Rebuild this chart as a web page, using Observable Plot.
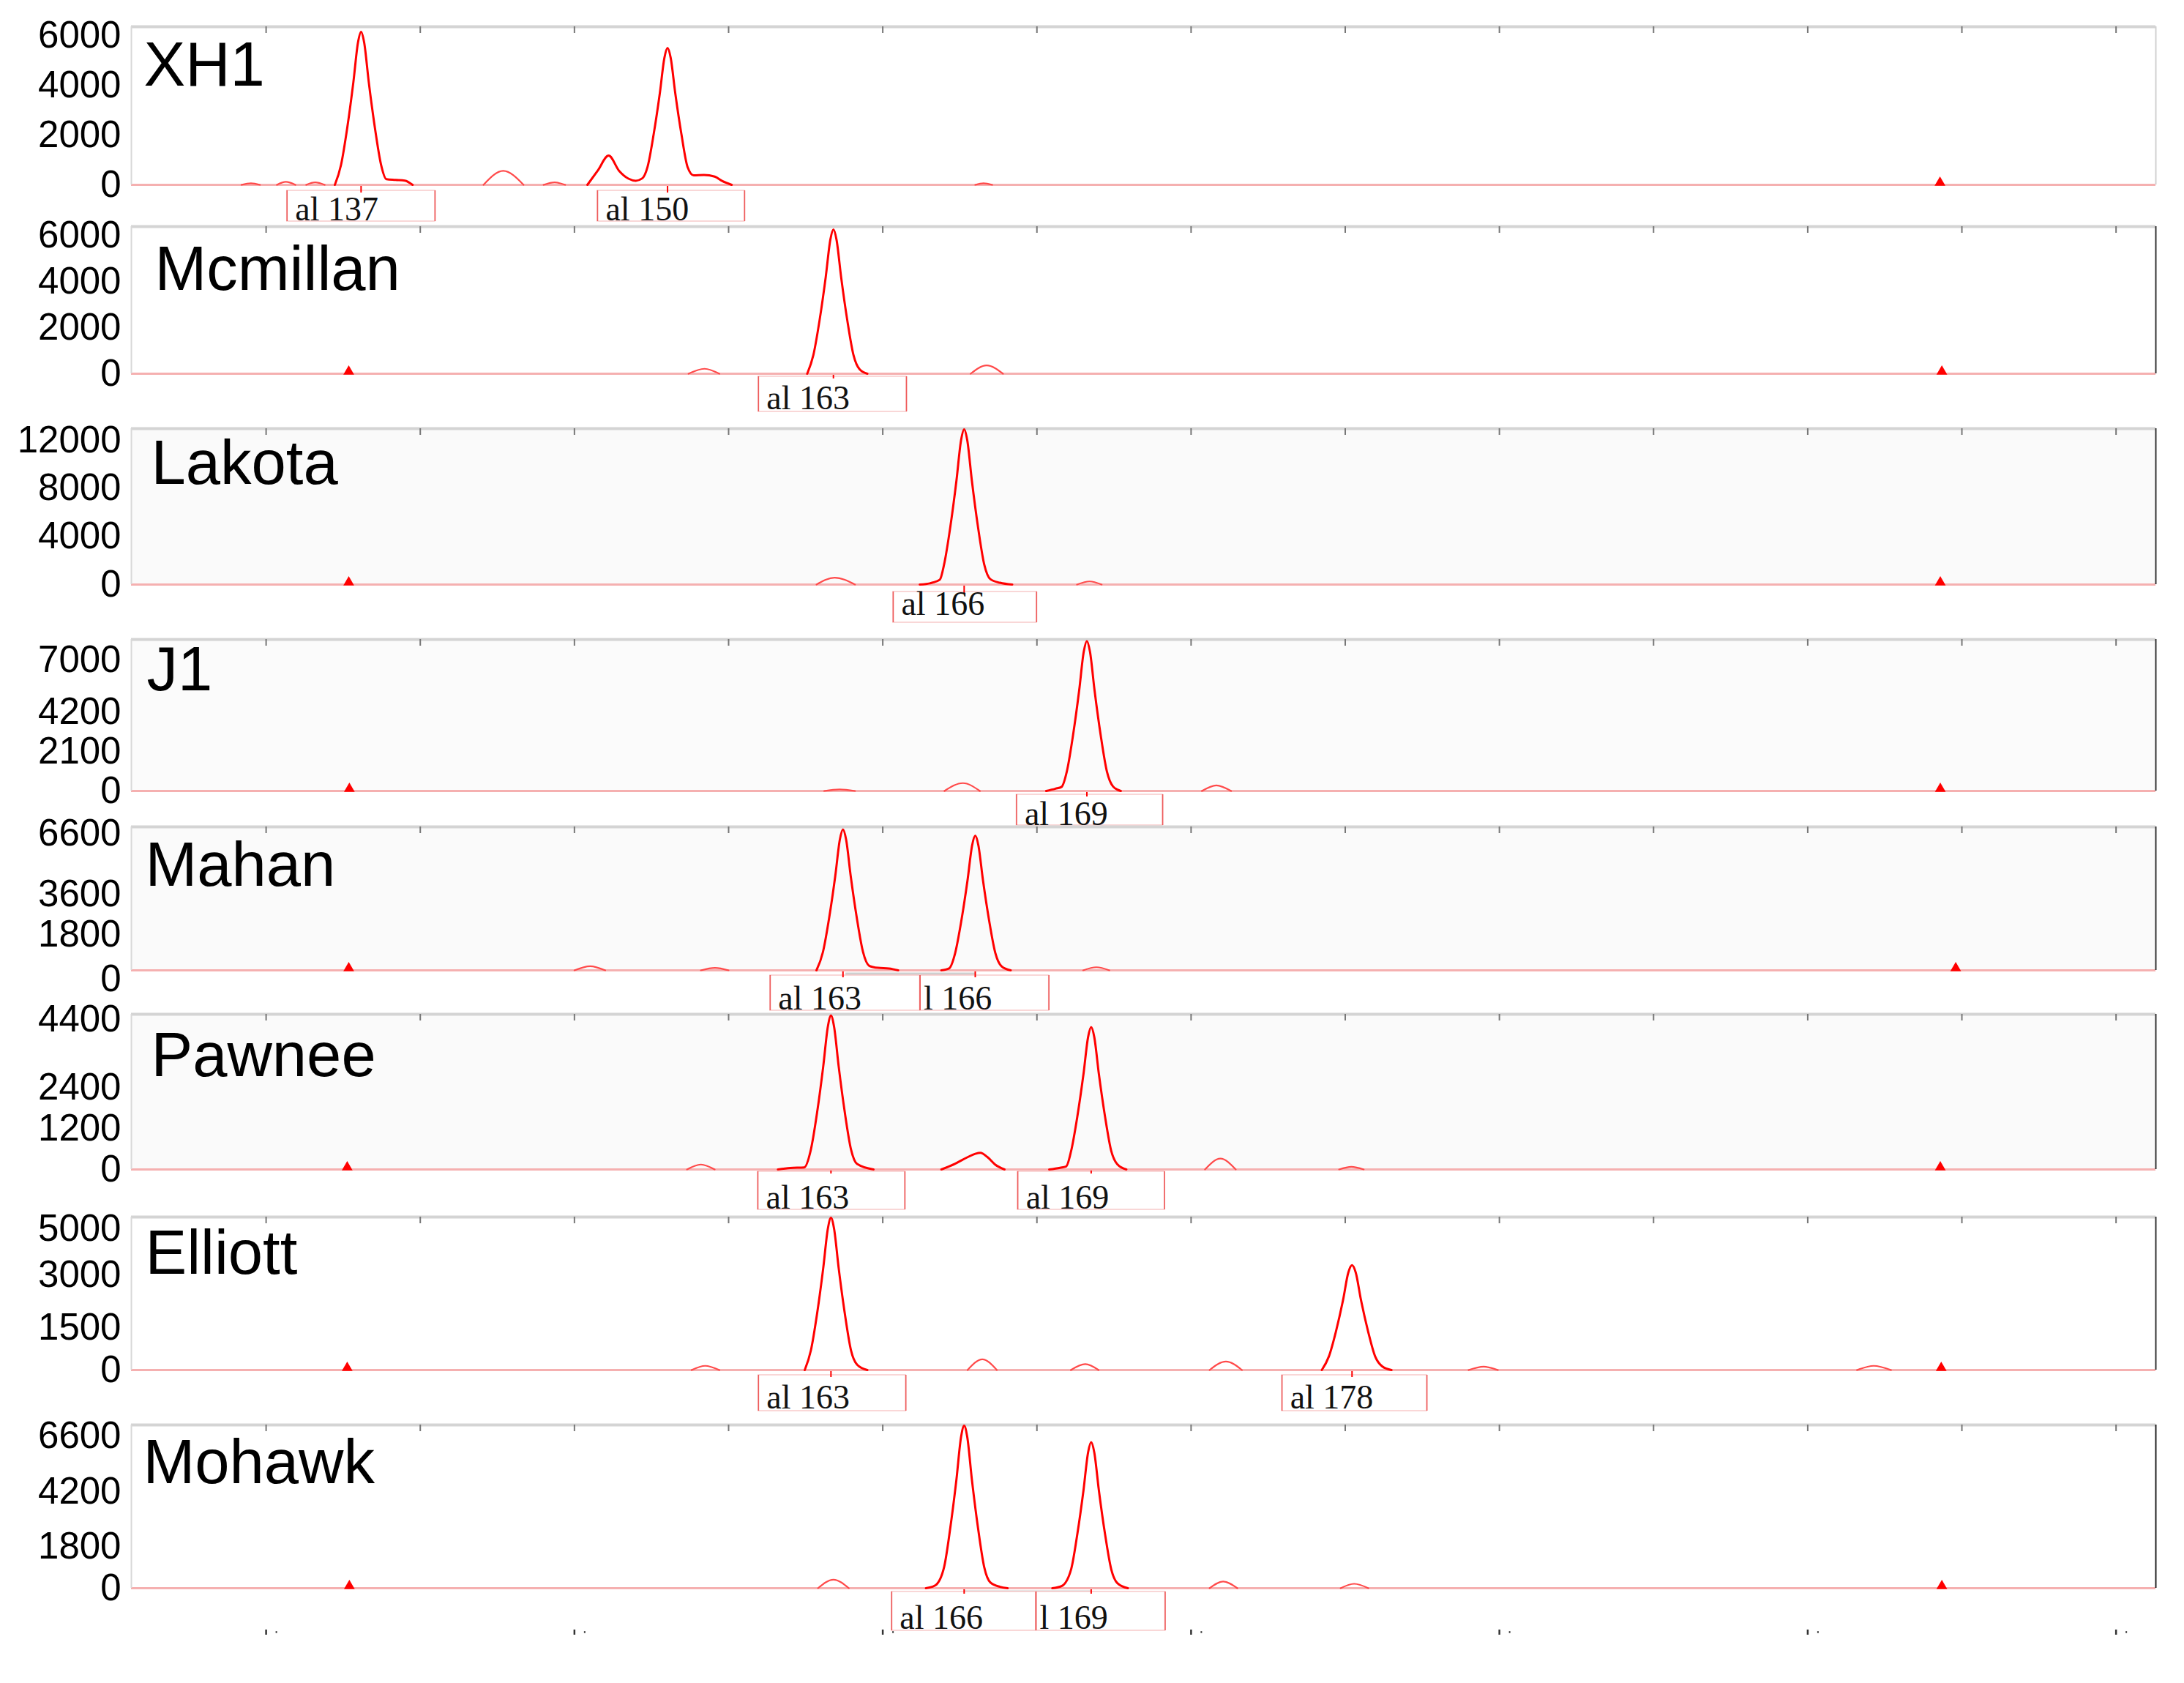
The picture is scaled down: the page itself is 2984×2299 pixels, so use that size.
<!DOCTYPE html>
<html>
<head>
<meta charset="utf-8">
<script src="https://cdn.jsdelivr.net/npm/d3@7"></script>
<script src="https://cdn.jsdelivr.net/npm/@observablehq/plot@0.6"></script>
<style>
  html, body { margin: 0; padding: 0; background: #ffffff; }
  #chart { position: relative; width: 2984px; height: 2299px; overflow: hidden; background: #ffffff; }
  #chart svg { position: absolute; left: 0; }
</style>
</head>
<body>
<div id="chart"></div>
<script>
// ---------- shared axis values (fragment size, bp) ----------
const xDomain = [125.63, 191.29];
const topTicks = [130, 135, 140, 145, 150, 155, 160, 165, 170, 175, 180, 185, 190];
const bottomTicks = [130, 140, 150, 160, 170, 180, 190];

// ---------- panel names and RFU axes ----------
const panelNames = ["XH1", "Mcmillan", "Lakota", "J1", "Mahan", "Pawnee", "Elliott", "Mohawk"];
const yMaxValues = [6353, 6400, 12964, 8086, 6926, 4559, 5429, 7079];
const xh1Ticks = [0, 2000, 4000, 6000];
const mcmillanTicks = [0, 2000, 4000, 6000];
const lakotaTicks = [0, 4000, 8000, 12000];
const j1Ticks = [0, 2100, 4200, 7000];
const mahanTicks = [0, 1800, 3600, 6600];
const pawneeTicks = [0, 1200, 2400, 4400];
const elliottTicks = [0, 1500, 3000, 5000];
const mohawkTicks = [0, 1800, 4200, 6600];

// ---------- traces: [size bp, RFU] ----------
const xh1Peaks = [
  [[132.23,0],[132.43,800],[132.63,2280],[132.83,4120],[132.98,5720],[133.08,6150],[133.18,5720],[133.33,4120],[133.53,2280],[133.73,800],[133.9,230],[134.2,200],[134.5,170],[134.75,0]],
  [[140.42,0],[140.75,560],[141.11,1175],[141.45,560],[141.75,250],[141.99,165],[142.2,260],[142.37,715],[142.57,2035],[142.77,3685],[142.92,5115],[143.02,5500],[143.12,5115],[143.27,3685],[143.47,2035],[143.67,715],[143.87,380],[144.2,400],[144.55,330],[144.8,150],[145.1,0]]
];
const xh1Minor = [
  [[129.2,0],[129.51,60],[129.8,0]],
  [[130.35,0],[130.64,120],[130.95,0]],
  [[131.3,0],[131.59,100],[131.9,0]],
  [[137.05,0],[137.69,560],[138.35,0]],
  [[139.0,0],[139.36,100],[139.7,0]],
  [[153.0,0],[153.27,60],[153.55,0]]
];

const mcmillanPeaks = [
  [[147.55,0],[147.75,815],[147.95,2320],[148.15,4200],[148.3,5830],[148.4,6270],[148.5,5830],[148.65,4200],[148.85,2320],[149.05,815],[149.25,190],[149.5,0]]
];
const mcmillanMinor = [
  [[143.7,0],[144.22,215],[144.7,0]],
  [[152.85,0],[153.37,360],[153.9,0]]
];

const lakotaPeaks = [
  [[151.2,0],[151.6,150],[151.85,400],[151.99,1680],[152.19,4770],[152.39,8640],[152.54,12000],[152.64,12900],[152.74,12000],[152.89,8640],[153.09,4770],[153.29,1680],[153.49,450],[153.8,150],[154.2,0]]
];
const lakotaMinor = [
  [[147.85,0],[148.44,570],[149.1,0]],
  [[156.3,0],[156.71,260],[157.1,0]]
];

const j1Peaks = [
  [[155.3,0],[155.6,120],[155.8,220],[155.97,1040],[156.17,2960],[156.37,5360],[156.52,7440],[156.62,8000],[156.72,7440],[156.87,5360],[157.07,2960],[157.27,1040],[157.47,240],[157.72,0]]
];
const j1Minor = [
  [[148.1,0],[148.6,80],[149.1,0]],
  [[152.0,0],[152.6,420],[153.15,0]],
  [[160.35,0],[160.82,300],[161.3,0]]
];

const mahanPeaks = [
  [[147.85,0],[148.06,884],[148.26,2516],[148.46,4556],[148.61,6324],[148.71,6800],[148.81,6324],[148.96,4556],[149.16,2516],[149.36,884],[149.56,220],[149.85,120],[150.2,90],[150.5,0]],
  [[151.9,0],[152.15,90],[152.35,845],[152.55,2405],[152.75,4355],[152.9,6045],[153.0,6500],[153.1,6045],[153.25,4355],[153.45,2405],[153.65,845],[153.85,200],[154.15,0]]
];
const mahanMinor = [
  [[140.0,0],[140.51,200],[141.0,0]],
  [[144.1,0],[144.56,120],[145.0,0]],
  [[156.5,0],[156.93,150],[157.35,0]]
];

const pawneePeaks = [
  [[146.6,0],[147.0,45],[147.45,60],[147.67,590],[147.87,1670],[148.07,3030],[148.22,4200],[148.32,4520],[148.42,4200],[148.57,3030],[148.77,1670],[148.97,590],[149.17,160],[149.7,0]],
  [[151.9,0],[152.35,170],[152.75,360],[153.0,460],[153.17,490],[153.4,360],[153.65,140],[153.95,0]],
  [[155.4,0],[155.75,50],[155.95,90],[156.11,545],[156.31,1550],[156.51,2800],[156.66,3890],[156.76,4180],[156.86,3890],[157.01,2800],[157.21,1550],[157.41,545],[157.61,150],[157.9,0]]
];
const pawneeMinor = [
  [[143.65,0],[144.1,145],[144.55,0]],
  [[160.45,0],[160.95,320],[161.45,0]],
  [[164.8,0],[165.2,80],[165.6,0]]
];

const elliottPeaks = [
  [[147.47,0],[147.67,700],[147.87,2000],[148.07,3620],[148.22,5020],[148.32,5400],[148.42,5020],[148.57,3620],[148.77,2000],[148.97,700],[149.17,190],[149.5,0]],
  [[164.24,0],[164.47,484],[164.7,1376],[164.93,2490],[165.1,3460],[165.22,3720],[165.34,3460],[165.51,2490],[165.74,1376],[165.97,484],[166.2,130],[166.5,0]]
];
const elliottMinor = [
  [[143.8,0],[144.24,150],[144.7,0]],
  [[152.75,0],[153.23,380],[153.7,0]],
  [[156.1,0],[156.57,210],[157.0,0]],
  [[160.6,0],[161.13,300],[161.65,0]],
  [[169.0,0],[169.49,120],[169.95,0]],
  [[181.6,0],[182.14,150],[182.7,0]]
];

const mohawkPeaks = [
  [[151.4,0],[151.7,120],[151.99,917],[152.19,2610],[152.39,4720],[152.54,6560],[152.64,7050],[152.74,6560],[152.89,4720],[153.09,2610],[153.29,917],[153.49,250],[153.8,60],[154.05,0]],
  [[155.5,0],[155.8,90],[156.11,823],[156.31,2340],[156.51,4240],[156.66,5890],[156.76,6330],[156.86,5890],[157.01,4240],[157.21,2340],[157.41,823],[157.61,220],[157.95,0]]
];
const mohawkMinor = [
  [[147.9,0],[148.4,370],[148.9,0]],
  [[160.6,0],[161.04,290],[161.5,0]],
  [[164.85,0],[165.29,190],[165.75,0]]
];

// ---------- size-standard markers (bp) ----------
const xh1Markers = [184.29];
const mcmillanMarkers = [132.68, 184.35];
const lakotaMarkers = [132.68, 184.3];
const j1Markers = [132.7, 184.3];
const mahanMarkers = [132.68, 184.8];
const pawneeMarkers = [132.63, 184.3];
const elliottMarkers = [132.63, 184.33];
const mohawkMarkers = [132.7, 184.35];

// ---------- allele calls: peak, bin start, bin end, label ----------
const xh1Alleles = [
  {x: 133.08, x1: 130.68, x2: 135.48, text: "al 137"},
  {x: 143.02, x1: 140.75, x2: 145.52, text: "al 150"}
];
const mcmillanAlleles = [{x: 148.40, x1: 145.97, x2: 150.77, text: "al 163"}];
const lakotaAlleles = [{x: 152.64, x1: 150.34, x2: 154.99, text: "al 166"}];
const j1Alleles = [{x: 156.62, x1: 154.34, x2: 159.08, text: "al 169"}];
const mahanAlleles = [
  {x: 148.71, x1: 146.35, x2: 151.21, text: "al 163"},
  {x: 153.00, x1: 151.21, x2: 155.39, text: "l 166"}
];
const pawneeAlleles = [
  {x: 148.32, x1: 145.95, x2: 150.72, text: "al 163"},
  {x: 156.76, x1: 154.38, x2: 159.14, text: "al 169"}
];
const elliottAlleles = [
  {x: 148.32, x1: 145.97, x2: 150.75, text: "al 163"},
  {x: 165.22, x1: 162.95, x2: 167.65, text: "al 178"}
];
const mohawkAlleles = [
  {x: 152.64, x1: 150.29, x2: 154.97, text: "al 166"},
  {x: 156.76, x1: 154.97, x2: 159.16, text: "l 169"}
];

// ---------- bin bars (bp) ----------
const mahanBins = [[148.80, 153.03]];
const mohawkBins = [[152.64, 156.76]];

// ---------- panel layout / style ----------
const panels = [
  {ticks: xh1Ticks, peaks: xh1Peaks, minor: xh1Minor, markers: xh1Markers, alleles: xh1Alleles, bins: [],
   top: 36, base: 252, bg: "#ffffff", right: "#d0d0d0", titleDx: 17, titleDy: 80, box: [8, 50, 48], shift: {}},
  {ticks: mcmillanTicks, peaks: mcmillanPeaks, minor: mcmillanMinor, markers: mcmillanMarkers, alleles: mcmillanAlleles, bins: [],
   top: 309, base: 510, bg: "#ffffff", right: "#333333", titleDx: 32, titleDy: 86, box: [4, 52, 48], shift: {}},
  {ticks: lakotaTicks, peaks: lakotaPeaks, minor: lakotaMinor, markers: lakotaMarkers, alleles: lakotaAlleles, bins: [],
   top: 585, base: 798, bg: "#fafafa", right: "#333333", titleDx: 27, titleDy: 75, box: [10, 52, 41], shift: {}},
  {ticks: j1Ticks, peaks: j1Peaks, minor: j1Minor, markers: j1Markers, alleles: j1Alleles, bins: [],
   top: 873, base: 1080, bg: "#fbfbfb", right: "#333333", titleDx: 21, titleDy: 69, box: [5, 47, 46], shift: {}},
  {ticks: mahanTicks, peaks: mahanPeaks, minor: mahanMinor, markers: mahanMarkers, alleles: mahanAlleles, bins: mahanBins,
   top: 1129, base: 1325, bg: "#fafafa", right: "#333333", titleDx: 19, titleDy: 80, box: [7, 55, 53], shift: {0: 12, 3600: -2, 1800: 2}},
  {ticks: pawneeTicks, peaks: pawneePeaks, minor: pawneeMinor, markers: pawneeMarkers, alleles: pawneeAlleles, bins: [],
   top: 1385, base: 1597, bg: "#fafafa", right: "#333333", titleDx: 27, titleDy: 84, box: [3, 55, 53], shift: {}},
  {ticks: elliottTicks, peaks: elliottPeaks, minor: elliottMinor, markers: elliottMarkers, alleles: elliottAlleles, bins: [],
   top: 1662, base: 1871, bg: "#ffffff", right: "#333333", titleDx: 19, titleDy: 77, box: [7, 56, 52], shift: {3000: -14}},
  {ticks: mohawkTicks, peaks: mohawkPeaks, minor: mohawkMinor, markers: mohawkMarkers, alleles: mohawkAlleles, bins: mohawkBins,
   top: 1946, base: 2169, bg: "#ffffff", right: "#222222", titleDx: 16, titleDy: 79, box: [5, 58, 55], shift: {}, bottomAxis: true}
];

const SANS = "'Liberation Sans', Arial, Helvetica, sans-serif";
const SERIF = "'Liberation Serif', 'Times New Roman', Times, serif";
const MT = 40;
const TICK_FONT = 51;

function toRows(segments) {
  return segments.flatMap((pts, k) => pts.map(([x, y]) => ({x, y, k})));
}

const chart = document.getElementById("chart");

panels.forEach((p, i) => {
  const yMax = yMaxValues[i];
  const plotH = p.base - p.top;
  const mb = p.bottomAxis ? 72 : 62;
  const [bt, bb, tdy] = p.box;
  const shiftKeys = Object.keys(p.shift).map(Number);

  const marks = [
    Plot.frame({fill: p.bg, stroke: null}),
    // bin bars
    Plot.ruleY(p.bins, {x1: d => d[0], x2: d => d[1], y: 0, dy: 5, stroke: "#cfcfcf", strokeWidth: 4}),
    Plot.ruleY(p.bins, {x1: d => d[0], x2: d => d[1], y: 0, dy: 7, stroke: "#f4a0a0", strokeWidth: 1.5}),
    // allele boxes
    Plot.rect(p.alleles, {x1: "x1", x2: "x2", y1: 0, y2: 0, insetTop: bt, insetBottom: -bb, fill: "#ffffff", stroke: "#f8caca", strokeWidth: 1.5}),
    Plot.ruleX(p.alleles, {x: "x1", y1: 0, y2: 0, insetTop: bt, insetBottom: -bb, stroke: "#ee5a5a", strokeWidth: 1.6}),
    Plot.ruleX(p.alleles, {x: "x2", y1: 0, y2: 0, insetTop: bt, insetBottom: -bb, stroke: "#ee5a5a", strokeWidth: 1.6}),
    Plot.ruleX(p.alleles, {x: "x", y1: 0, y2: 0, insetTop: 1, insetBottom: -(bt + 3), stroke: "#ff0000", strokeWidth: 2}),
    Plot.text(p.alleles.filter(d => d.text.startsWith("a")), {x: "x1", y: 0, text: "text", textAnchor: "start", lineAnchor: "bottom", dx: 11, dy: tdy, fontSize: 46, fontFamily: SERIF, fill: "#111"}),
    Plot.text(p.alleles.filter(d => !d.text.startsWith("a")), {x: "x1", y: 0, text: "text", textAnchor: "start", lineAnchor: "bottom", dx: 5, dy: tdy, fontSize: 46, fontFamily: SERIF, fill: "#111"}),
    // frame lines
    Plot.ruleY([0], {stroke: "#f5b0b0", strokeWidth: 3}),
    Plot.ruleY([yMax], {stroke: "#d4d4d4", strokeWidth: 4}),
    Plot.ruleX(topTicks, {x: d => d, y1: yMax, y2: yMax, insetTop: 0, insetBottom: -9, stroke: "#777", strokeWidth: 2}),
    Plot.ruleX([xDomain[0]], {stroke: "#d8d8d8", strokeWidth: 2}),
    Plot.ruleX([xDomain[1]], {stroke: p.right, strokeWidth: 2}),
    // traces
    Plot.line(toRows(p.minor), {x: "x", y: "y", z: "k", stroke: "#ff4a4a", strokeWidth: 2.2, curve: "monotone-x"}),
    Plot.line(toRows(p.peaks), {x: "x", y: "y", z: "k", stroke: "#ff0000", strokeWidth: 3, curve: "monotone-x"}),
    // size standard markers
    Plot.dot(p.markers, {x: d => d, y: 0, symbol: "triangle", r: 5.5, fill: "#ff0000", stroke: "none", dy: -3}),
    // y tick labels
    Plot.text(p.ticks.filter(t => !shiftKeys.includes(t)), {y: d => d, text: d => String(d), frameAnchor: "left", dx: -14, textAnchor: "end", lineAnchor: "middle", fontSize: TICK_FONT, fontFamily: SANS, fill: "#000"}),
    ...shiftKeys.map(k => Plot.text([k], {y: d => d, text: d => String(d), frameAnchor: "left", dx: -14, dy: p.shift[k], textAnchor: "end", lineAnchor: "middle", fontSize: TICK_FONT, fontFamily: SANS, fill: "#000"})),
    // panel title
    Plot.text([panelNames[i]], {text: d => d, frameAnchor: "top-left", dx: p.titleDx, dy: p.titleDy, textAnchor: "start", lineAnchor: "bottom", fontSize: 85, fontFamily: SANS, fill: "#000"})
  ];
  if (p.bottomAxis) {
    // bottom size-axis ticks (their labels are cropped off in the original image)
    marks.push(Plot.ruleX(bottomTicks, {x: d => d, y1: 0, y2: 0, insetTop: 57, insetBottom: -64, stroke: "#333", strokeWidth: 2.5}));
    marks.push(Plot.ruleX(bottomTicks, {x: d => d, y1: 0, y2: 0, insetTop: 59, insetBottom: -62, dx: 14, stroke: "#555", strokeWidth: 2}));
  }

  const svg = Plot.plot({
    width: 2984,
    height: MT + plotH + mb,
    marginLeft: 179,
    marginRight: 39,
    marginTop: MT,
    marginBottom: mb,
    x: {domain: xDomain, axis: null},
    y: {domain: [0, yMax], axis: null},
    style: {background: "transparent", overflow: "hidden"},
    marks
  });
  svg.style.position = "absolute";
  svg.style.left = "0px";
  svg.style.top = (p.top - MT) + "px";
  chart.appendChild(svg);
});
</script>
</body>
</html>
